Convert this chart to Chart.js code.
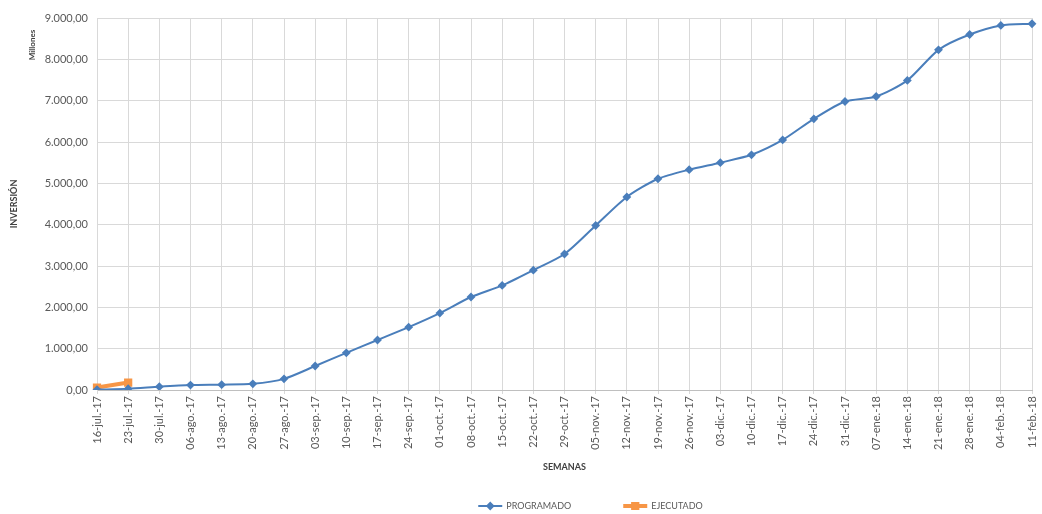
<!DOCTYPE html>
<html>
<head>
<meta charset="utf-8">
<script src="https://cdn.jsdelivr.net/npm/chart.js@4.4.0/dist/chart.umd.min.js"></script>
<style>
  html, body { margin: 0; padding: 0; background: #fff; }
  #wrap { width: 1042px; height: 514px; }
</style>
</head>
<body>
<div id="wrap"><canvas id="curvaChart"></canvas></div>
<script>
// semanas del cronograma
const semanas = [
    '16-jul.-17', '23-jul.-17', '30-jul.-17', '06-ago.-17', '13-ago.-17', '20-ago.-17',
    '27-ago.-17', '03-sep.-17', '10-sep.-17', '17-sep.-17', '24-sep.-17', '01-oct.-17',
    '08-oct.-17', '15-oct.-17', '22-oct.-17', '29-oct.-17', '05-nov.-17', '12-nov.-17',
    '19-nov.-17', '26-nov.-17', '03-dic.-17', '10-dic.-17', '17-dic.-17', '24-dic.-17',
    '31-dic.-17', '07-ene.-18', '14-ene.-18', '21-ene.-18', '28-ene.-18', '04-feb.-18',
    '11-feb.-18'
];

// inversion acumulada (millones)
const programado = [
    10, 30, 80, 120, 130, 150, 270, 580, 900, 1210, 1520, 1860,
    2250, 2530, 2900, 3290, 3980, 4670, 5110, 5330, 5500, 5690, 6050, 6560,
    6980, 7100, 7490, 8230, 8600, 8820, 8860
];
const ejecutado = [60, 180];

const yMin = 0, yMax = 9000, yStep = 1000;

const gris = '#595959';

// 9000 -> "9.000,00"
function formato(v) {
    return Math.round(v).toString().replace(/\B(?=(\d{3})+(?!\d))/g, '.') + ',00';
}

// "Millones" junto al eje y leyenda estilo excel (linea + marcador)
const extras = {
    id: 'extras',
    afterDraw(chart) {
        const ctx = chart.ctx;
        const area = chart.chartArea;
        ctx.save();
        ctx.translate(32, area.top + 27);
        ctx.rotate(-Math.PI / 2);
        ctx.font = 'bold 8px Lato';
        ctx.fillStyle = '#404040';
        ctx.textAlign = 'center';
        ctx.textBaseline = 'middle';
        ctx.fillText('Millones', 0, 0);
        ctx.restore();

        // leyenda
        const lineW = 24, gap = 4, sep = 52, y = 506;
        ctx.save();
        ctx.font = '9px Lato';
        const items = chart.data.datasets.map(ds => ({ ds, w: lineW + gap + ctx.measureText(ds.label).width }));
        const total = items.reduce((s, it) => s + it.w, 0) + sep * (items.length - 1);
        let x = (area.left + area.right) / 2 + 26 - total / 2;
        items.forEach(({ ds }, i) => {
            ctx.strokeStyle = ds.borderColor;
            ctx.lineWidth = ds.borderWidth;
            ctx.beginPath();
            ctx.moveTo(x, y);
            ctx.lineTo(x + lineW, y);
            ctx.stroke();
            Chart.helpers.drawPoint(ctx, {
                pointStyle: ds.pointStyle, radius: ds.pointRadius, rotation: 0, borderWidth: 1
            }, x + lineW / 2, y);
            ctx.fillStyle = ds.pointBackgroundColor;
            ctx.strokeStyle = ds.pointBorderColor;
            ctx.fill();
            ctx.fillStyle = gris;
            ctx.textAlign = 'left';
            ctx.textBaseline = 'middle';
            ctx.fillText(ds.label, x + lineW + gap, y);
            x += items[i].w + sep;
        });
        ctx.restore();
    }
};

const ctx = document.getElementById('curvaChart').getContext('2d');
const curvaChart = new Chart(ctx, {
    type: 'line',
    data: {
        labels: semanas,
        datasets: [{
            label: 'PROGRAMADO',
            data: programado,
            borderColor: '#4a7ebb',
            backgroundColor: '#4a7ebb',
            borderWidth: 2,
            pointStyle: 'rectRot',
            pointRadius: 3,
            pointBackgroundColor: '#4a7ebb',
            pointBorderColor: '#4a7ebb',
            tension: 0.25
        }, {
            label: 'EJECUTADO',
            data: ejecutado,
            borderColor: '#f79646',
            backgroundColor: '#f79646',
            borderWidth: 4,
            pointStyle: 'rect',
            pointRadius: 3,
            pointBackgroundColor: '#f79646',
            pointBorderColor: '#f79646'
        }]
    },
    options: {
        responsive: true,
        maintainAspectRatio: false,
        animation: false,
        layout: { padding: { left: 0, right: 10, top: 18, bottom: 34 } },
        scales: {
            x: {
                offset: false,
                grid: { color: '#d9d9d9', tickLength: 4 },
                border: { color: '#bfbfbf' },
                ticks: {
                    color: gris,
                    font: { family: 'Lato', size: 11 },
                    maxRotation: 90,
                    minRotation: 90,
                    autoSkip: false,
                    padding: 2
                },
                title: {
                    display: true,
                    text: 'SEMANAS',
                    color: '#404040',
                    font: { family: 'Lato', size: 9, weight: 'bold' },
                    padding: { top: 6, bottom: 8 }
                },
                afterFit(scale) {
                    scale.height = 90;
                    scale.paddingRight = 0;
                }
            },
            y: {
                min: yMin,
                max: yMax,
                grid: { color: '#d9d9d9', drawTicks: false },
                border: { color: '#d9d9d9' },
                ticks: {
                    stepSize: yStep,
                    color: gris,
                    font: { family: 'Lato', size: 11 },
                    padding: 9,
                    callback: v => formato(v)
                },
                title: {
                    display: true,
                    text: 'INVERSIÓN',
                    color: '#404040',
                    font: { family: 'Lato', size: 9, weight: 'bold' },
                    padding: { top: 9, bottom: 4 }
                },
                afterFit(scale) { scale.width = 97; }
            }
        },
        plugins: {
            legend: { display: false },
            tooltip: { enabled: false }
        }
    },
    plugins: [extras]
});
</script>
</body>
</html>
